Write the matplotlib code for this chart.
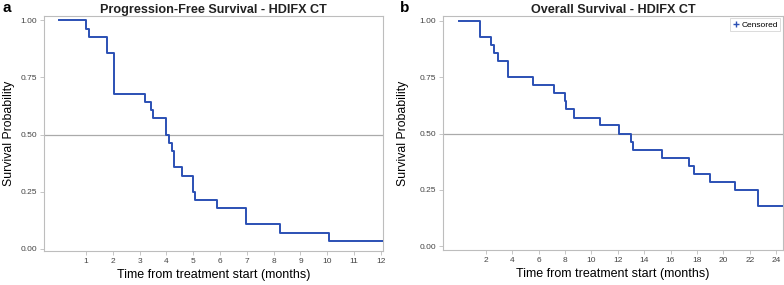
import numpy as np
import matplotlib.pyplot as plt

plt.rcParams['font.family'] = ['Liberation Sans', 'DejaVu Sans']

# Kaplan-Meier step data (time in months, survival)
pfs_time = [0, 1.0, 1.12, 1.8, 2.03, 3.2, 3.41, 3.48, 3.98, 4.1, 4.19, 4.28,
            4.59, 4.98, 5.07, 5.88, 6.98, 8.25, 10.06, 12.1]
pfs_surv = [1.0, 0.964, 0.929, 0.857, 0.679, 0.643, 0.607, 0.571, 0.5, 0.464,
            0.429, 0.357, 0.321, 0.25, 0.214, 0.179, 0.107, 0.071, 0.036, 0.036]

os_time = [0, 1.54, 2.43, 2.6, 2.9, 3.69, 5.56, 7.17, 8.0, 8.1, 8.67, 10.66,
           12.1, 13.0, 13.14, 15.38, 17.4, 17.8, 19.0, 20.9, 22.6, 24.6]
os_surv = [1.0, 0.929, 0.893, 0.857, 0.821, 0.75, 0.714, 0.679, 0.643, 0.607,
           0.571, 0.536, 0.5, 0.464, 0.429, 0.393, 0.357, 0.321, 0.286, 0.25,
           0.179, 0.179]

pfs_xticks = list(range(1, 13))
os_xticks = list(range(2, 25, 2))
yticks = [0.0, 0.25, 0.5, 0.75, 1.0]

line_col = "#2B50B4"
frame_col = "#BDBDBD"
tick_col = "#444444"

fig = plt.figure(figsize=(7.84, 2.85), dpi=100)
ax_a = fig.add_axes([0.0561, 0.1193, 0.4324, 0.8246])
ax_b = fig.add_axes([0.5647, 0.1228, 0.434, 0.8211])


def style_axes(ax, xticks, xlim, ylim, ypad):
    ax.axhline(0.5, color="#AAAAAA", lw=0.9, zorder=1)
    ax.set_xlim(*xlim)
    ax.set_ylim(*ylim)
    ax.set_xticks(xticks)
    ax.set_xticklabels([str(t) for t in xticks])
    ax.set_yticks(yticks)
    ax.set_yticklabels([f"{v:.2f}" for v in yticks])
    ax.tick_params(labelsize=6, colors=tick_col, length=3, width=0.6,
                   pad=2, color=frame_col)
    for s in ax.spines.values():
        s.set_color(frame_col)
        s.set_linewidth(0.8)
    ax.set_xlabel("Time from treatment start (months)", fontsize=9,
                  labelpad=3)
    ax.set_ylabel("Survival Probability", fontsize=8.8, labelpad=ypad)


ax_a.step(pfs_time, pfs_surv, where="post", color=line_col, lw=1.4, zorder=3)
style_axes(ax_a, pfs_xticks, (-0.57, 12.08), (-0.009, 1.019), 4)
ax_a.set_title("Progression-Free Survival - HDIFX CT", fontsize=9.1,
               fontweight="bold", color="#222222", pad=2)

ax_b.step(os_time, os_surv, where="post", color=line_col, lw=1.4, zorder=3)
style_axes(ax_b, os_xticks, (-1.26, 24.52), (-0.016, 1.021), 7)
ax_b.set_title("Overall Survival - HDIFX CT", fontsize=9.1,
               fontweight="bold", color="#222222", pad=2)

# censored legend
ax_b.plot([], [], marker="+", ls="none", color=line_col, ms=4,
          label="Censored")
leg = ax_b.legend(loc="upper right", fontsize=6, frameon=True,
                  handletextpad=0.1, borderpad=0.3, handlelength=1.0,
                  borderaxespad=0.3, fancybox=False)
leg.get_frame().set_edgecolor("#CCCCCC")
leg.get_frame().set_linewidth(0.6)

fig.text(0.003, 0.995, "a", fontsize=11, fontweight="bold", va="top")
fig.text(0.510, 0.995, "b", fontsize=11, fontweight="bold", va="top")

fig.savefig("out.png", dpi=100)
